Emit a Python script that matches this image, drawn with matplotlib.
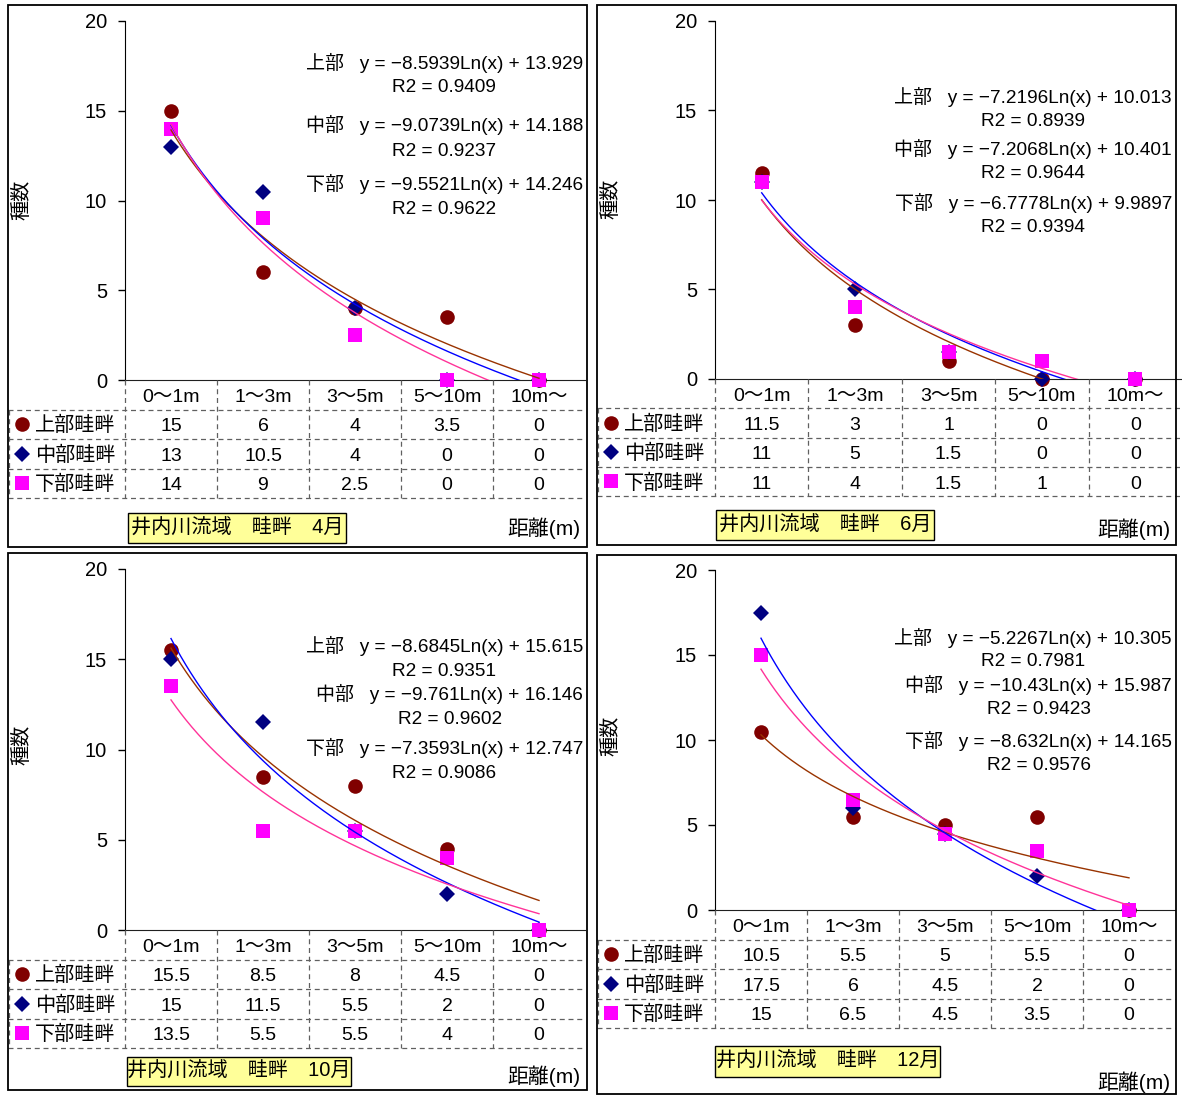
import matplotlib
matplotlib.use("Agg")
import matplotlib.pyplot as plt
import numpy as np
from matplotlib.patches import Rectangle

W, H = 1182, 1095
FONT = ['Liberation Sans', 'Noto Sans CJK JP', 'DejaVu Sans']
plt.rcParams['font.family'] = FONT

# ---------------- data ----------------
categories = ["0～1m", "1～3m", "3～5m", "5～10m", "10m～"]
series_names = ["上部畦畔", "中部畦畔", "下部畦畔"]
fit_labels = ["上部", "中部", "下部"]
titles = ["井内川流域　畦畔　4月", "井内川流域　畦畔　6月",
          "井内川流域　畦畔　10月", "井内川流域　畦畔　12月"]

apr_upper = [15, 6, 4, 3.5, 0]
apr_middle = [13, 10.5, 4, 0, 0]
apr_lower = [14, 9, 2.5, 0, 0]

jun_upper = [11.5, 3, 1, 0, 0]
jun_middle = [11, 5, 1.5, 0, 0]
jun_lower = [11, 4, 1.5, 1, 0]

oct_upper = [15.5, 8.5, 8, 4.5, 0]
oct_middle = [15, 11.5, 5.5, 2, 0]
oct_lower = [13.5, 5.5, 5.5, 4, 0]

dec_upper = [10.5, 5.5, 5, 5.5, 0]
dec_middle = [17.5, 6, 4.5, 2, 0]
dec_lower = [15, 6.5, 4.5, 3.5, 0]

# logarithmic trend lines y = slope*Ln(x) + intercept, per series (上部, 中部, 下部)
apr_slope = [-8.5939, -9.0739, -9.5521]
apr_intercept = [13.929, 14.188, 14.246]
apr_r2 = [0.9409, 0.9237, 0.9622]

jun_slope = [-7.2196, -7.2068, -6.7778]
jun_intercept = [10.013, 10.401, 9.9897]
jun_r2 = [0.8939, 0.9644, 0.9394]

oct_slope = [-8.6845, -9.761, -7.3593]
oct_intercept = [15.615, 16.146, 12.747]
oct_r2 = [0.9351, 0.9602, 0.9086]

dec_slope = [-5.2267, -10.43, -8.632]
dec_intercept = [10.305, 15.987, 14.165]
dec_r2 = [0.7981, 0.9423, 0.9576]

y_ticks = [0, 5, 10, 15, 20]

# ---------------- styles ----------------
marker_styles = [
    dict(marker='o', ms=10.5, color='#800000'),
    dict(marker='D', ms=8, color='#000080'),
    dict(marker='s', ms=10, color='#FF00FF'),
]
trend_colors = ['#993300', '#0000FF', '#FF3399']
GRID = dict(color='#606060', lw=0.9, linestyle=(0, (4, 3)))
TXT_SHIFT = 0.09  # nudges table text to the optical centre of each row

# pixel layout of each panel
panels = [
    dict(frame=(8, 5, 587, 547), plot=(125, 585, 21, 380), tbottom=498,
         ylab=(22, 200), tbox=(128, 513, 346, 543), dist=(580, 528),
         eq_right=583, eq_y=[(63, 88), (125, 151), (184, 209)],
         vals=[apr_upper, apr_middle, apr_lower],
         fit=(apr_slope, apr_intercept, apr_r2)),
    dict(frame=(597, 5, 1176, 545), plot=(715, 1182, 21, 379), tbottom=496,
         ylab=(611, 199), tbox=(716, 510, 934, 540), dist=(1170, 529),
         eq_right=1172, eq_y=[(97, 121), (149, 174), (203, 227)],
         vals=[jun_upper, jun_middle, jun_lower],
         fit=(jun_slope, jun_intercept, jun_r2)),
    dict(frame=(8, 553, 587, 1090), plot=(125, 585, 569, 930), tbottom=1048,
         ylab=(22, 745), tbox=(127, 1057, 351, 1086), dist=(580, 1076),
         eq_right=583, eq_y=[(646, 671), (694, 719), (748, 773)],
         vals=[oct_upper, oct_middle, oct_lower],
         fit=(oct_slope, oct_intercept, oct_r2)),
    dict(frame=(597, 555, 1176, 1094), plot=(715, 1175, 570, 910), tbottom=1028,
         ylab=(611, 736), tbox=(715, 1046, 940, 1077), dist=(1170, 1082),
         eq_right=1172, eq_y=[(638, 662), (685, 710), (741, 766)],
         vals=[dec_upper, dec_middle, dec_lower],
         fit=(dec_slope, dec_intercept, dec_r2)),
]


def fx(x):
    return x / W


def fy(y):
    return 1 - y / H


fig = plt.figure(figsize=(W / 100, H / 100), dpi=100)
fig.patch.set_facecolor('white')

x_cat = np.arange(1, len(categories) + 1)
x_fit = np.linspace(1, len(categories), 300)
pending_r2 = []

for p, title in zip(panels, titles):
    L, R, T, B = p['plot']
    FL, FT, FR, FB = p['frame']
    catw = (R - L) / len(categories)

    # ---- chart area ----
    ax = fig.add_axes([fx(L), fy(B), (R - L) / W, (B - T) / H])
    ax.set_xlim(0.5, len(categories) + 0.5)
    ax.set_ylim(0, 20)
    ax.patch.set_alpha(0)
    for s in ('top', 'right'):
        ax.spines[s].set_visible(False)
    ax.spines['left'].set_color('black')
    ax.spines['bottom'].set_color('#202020')
    ax.set_xticks([])
    ax.set_yticks(y_ticks)
    ax.tick_params(axis='y', direction='out', length=5, width=1, labelsize=14.5, pad=8)

    for vals, st in zip(p['vals'], marker_styles):
        ax.plot(x_cat, vals, linestyle='none', clip_on=False, zorder=3,
                markeredgewidth=0, **st)

    slopes, intercepts, r2s = p['fit']
    for a, b, c in zip(slopes, intercepts, trend_colors):
        ax.plot(x_fit, a * np.log(x_fit) + b, color=c, lw=1, zorder=4)

    fig.text(fx(p['ylab'][0]), fy(p['ylab'][1]), "種数", rotation=90,
             ha='center', va='center', fontsize=14.5)

    # trend-line equations
    for lab, a, b, r2, (y1, y2) in zip(fit_labels, slopes, intercepts, r2s, p['eq_y']):
        t = fig.text(fx(p['eq_right']), fy(y1),
                     f"{lab}   y = −{abs(a):g}Ln(x) + {b:g}",
                     ha='right', va='center', fontsize=13.7)
        pending_r2.append((t, y2, f"R2 = {r2:g}"))

    # ---- data table ----
    TB = p['tbottom']
    tax = fig.add_axes([fx(FL), fy(TB), (R - FL) / W, (TB - B) / H])
    x_left = 0.5 - (L - FL) / catw
    tax.set_xlim(x_left, len(categories) + 0.5)
    tax.set_ylim(4, 0)
    tax.axis('off')

    def xd(px):
        return 0.5 + (px - L) / catw

    for r in range(1, 5):
        tax.plot([x_left, len(categories) + 0.5], [r, r], clip_on=False, **GRID)
    for xb in np.arange(0.5, len(categories), 1.0):
        tax.plot([xb, xb], [0, 4], clip_on=False, **GRID)
    tax.plot([xd(FL + 1), xd(FL + 1)], [1, 4], clip_on=False, **GRID)

    for i, cat in enumerate(categories):
        tax.text(i + 1, 0.5 + TXT_SHIFT, cat, ha='center', va='center', fontsize=14)

    for r, (name, vals, st) in enumerate(zip(series_names, p['vals'], marker_styles), start=1):
        tax.plot([xd(FL + 14)], [r + 0.5], linestyle='none', clip_on=False,
                 markeredgewidth=0, **st)
        tax.text(xd(FL + 27), r + 0.5 + TXT_SHIFT * 0.6, name, ha='left', va='center',
                 fontsize=14.5)
        for i, v in enumerate(vals):
            tax.text(i + 1, r + 0.5 + TXT_SHIFT, f"{v:g}", ha='center', va='center',
                     fontsize=14)

    # ---- title box and axis caption ----
    bx0, by0, bx1, by1 = p['tbox']
    fig.patches.append(Rectangle((fx(bx0), fy(by1)), (bx1 - bx0) / W, (by1 - by0) / H,
                                 transform=fig.transFigure, facecolor='#FFFF99',
                                 edgecolor='black', lw=1, zorder=2))
    fig.text(fx((bx0 + bx1) / 2), fy((by0 + by1) / 2), title, ha='center', va='center',
             fontsize=14.5, zorder=3)
    fig.text(fx(p['dist'][0]), fy(p['dist'][1]), "距離(m)", ha='right', va='center',
             fontsize=15)

    # ---- panel frame ----
    fig.patches.append(Rectangle((fx(FL), fy(FB)), (FR - FL) / W, (FB - FT) / H,
                                 transform=fig.transFigure, fill=False,
                                 edgecolor='black', lw=1.3, zorder=5))

# R2 lines are centred under their equation lines
fig.canvas.draw()
renderer = fig.canvas.get_renderer()
for t, y2, s in pending_r2:
    bb = t.get_window_extent(renderer)
    cx = (bb.x0 + bb.x1) / 2 / fig.bbox.width
    fig.text(cx, fy(y2), s, ha='center', va='center', fontsize=13.7)

fig.savefig("out.png", dpi=100)
